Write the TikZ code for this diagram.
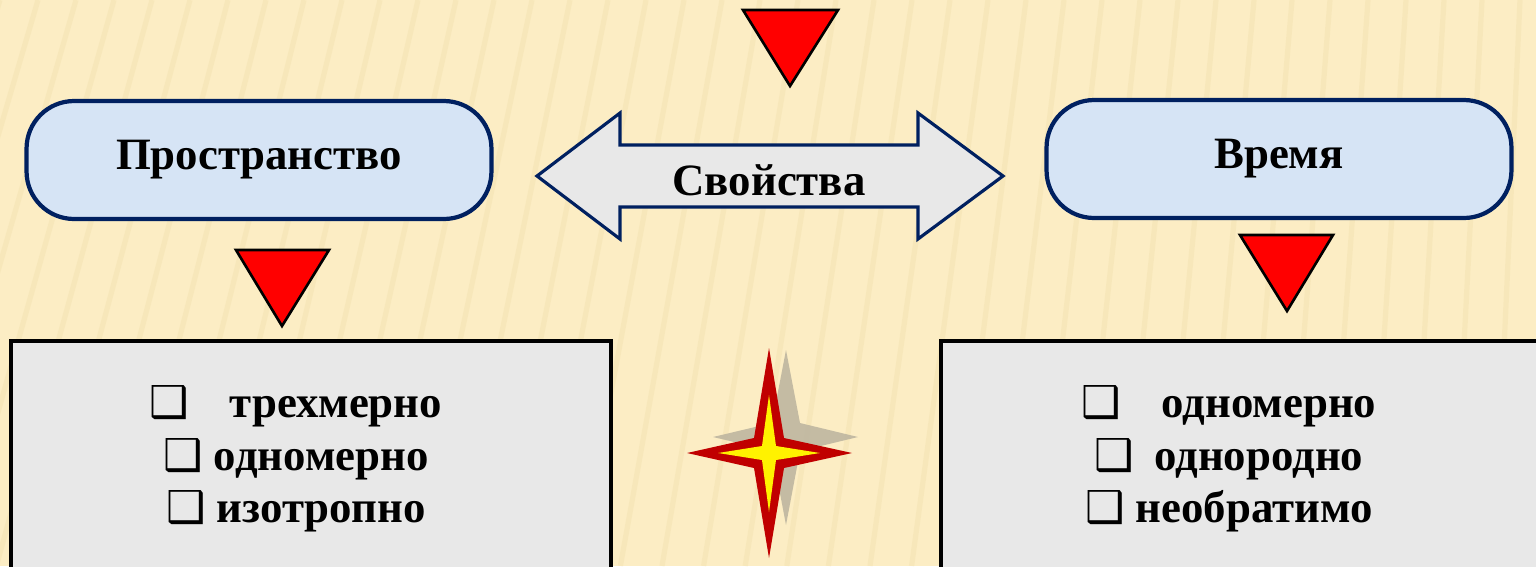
\documentclass[tikz,border=0pt]{standalone}
\usepackage{fontspec}
\setmainfont{Liberation Serif}
\newfontfamily\symfont{DejaVu Sans}
\usepackage{tikz}
\usetikzlibrary{positioning}

\definecolor{bgcream}{RGB}{252,237,196}
\definecolor{stripecol}{RGB}{240,222,170}
\definecolor{navy}{RGB}{0,32,96}
\definecolor{pillblue}{RGB}{214,228,245}
\definecolor{panelgrey}{RGB}{232,232,232}
\definecolor{arrowgrey}{RGB}{232,232,232}
\definecolor{starred}{RGB}{192,0,0}
\definecolor{starshadow}{RGB}{190,182,160}

\newcommand{\bul}{{\symfont\fontsize{25}{25}\selectfont ❑}}

\begin{document}
\begin{tikzpicture}[
		x=0.02cm, y=-0.02cm,
		font=\bfseries\fontsize{25.5}{30}\selectfont,
		pill/.style={
			rectangle,
			rounded corners=0.95cm,
			draw=navy,
			line width=2.4pt,
			fill=pillblue,
			minimum width=9.3cm,
			minimum height=2.36cm
		},
		panel/.style={
			rectangle,
			draw=black,
			line width=1.8pt,
			fill=panelgrey,
			minimum width=12cm,
			minimum height=4.6cm
		},
		tri/.style={
			draw=black,
			line width=1.5pt,
			fill=red
		},
		twoway/.style={
			draw=navy,
			line width=1.8pt,
			fill=arrowgrey
		},
		stripe/.style={
			draw=stripecol,
			line width=3pt,
			opacity=0.35
		},
		itemlist/.style={
			align=center,
			inner sep=0pt
		}
		]
		% background
		\useasboundingbox (0,0) rectangle (1536,566);
		\fill[bgcream] (0,0) rectangle (1536,566);
		\begin{scope}
			\clip (0,0) rectangle (1536,566);
			\foreach \i in {0,...,44}
			\draw[stripe] ({\i*38},0) -- ({\i*38-170+\i*3.6},566);
		\end{scope}
		
		% the two concepts
		\node [pill] (space) at (259,160) {Пространство};
		\node [pill] (time) at (1279,159) {Время};
		
		% two-headed arrow with its label
		\draw [twoway] (537,176) -- (620,113) -- (620,145) -- (918,145) -- (918,113)
		-- (1003,176) -- (918,239) -- (918,207) -- (620,207) -- (620,239) -- cycle;
		\node (props) at (769,180) {Свойства};
		
		% red triangles
		\draw [tri] (743,10) -- (838,10) -- (790,86) -- cycle;
		\draw [tri] (236,250) -- (329,250) -- (282,326) -- cycle;
		\draw [tri] (1240,235) -- (1333,235) -- (1287,311) -- cycle;
		
		% lists of properties
		\node [panel] (spacebox) at (311,456) {};
		\node [panel] (timebox) at (1241,456) {};
		
		\node [itemlist] (spacelist) at (296,459)
		{%
			\bul\hspace{0.9em}трехмерно\\
			\bul\ одномерно\\
			\bul\ изотропно
		};
		\node [itemlist] (timelist) at (1229,459)
		{%
			\bul\hspace{0.9em}одномерно\\
			\bul\hspace{0.45em}однородно\\
			\bul\ необратимо
		};
		
		% star between the lists
		\fill [starshadow, opacity=0.9] (786,350) -- (800,423) -- (858,437) -- (800,451)
		-- (786,525) -- (772,451) -- (713,437) -- (772,423) -- cycle;
		\fill [starred] (769,348) -- (784,438) -- (852,453) -- (784,468)
		-- (769,558) -- (754,468) -- (687,453) -- (754,438) -- cycle;
		\fill [yellow] (769,395) -- (776,446) -- (820,453) -- (776,460)
		-- (769,512) -- (762,460) -- (718,453) -- (762,446) -- cycle;
		
		\end{tikzpicture}
\end{document}
